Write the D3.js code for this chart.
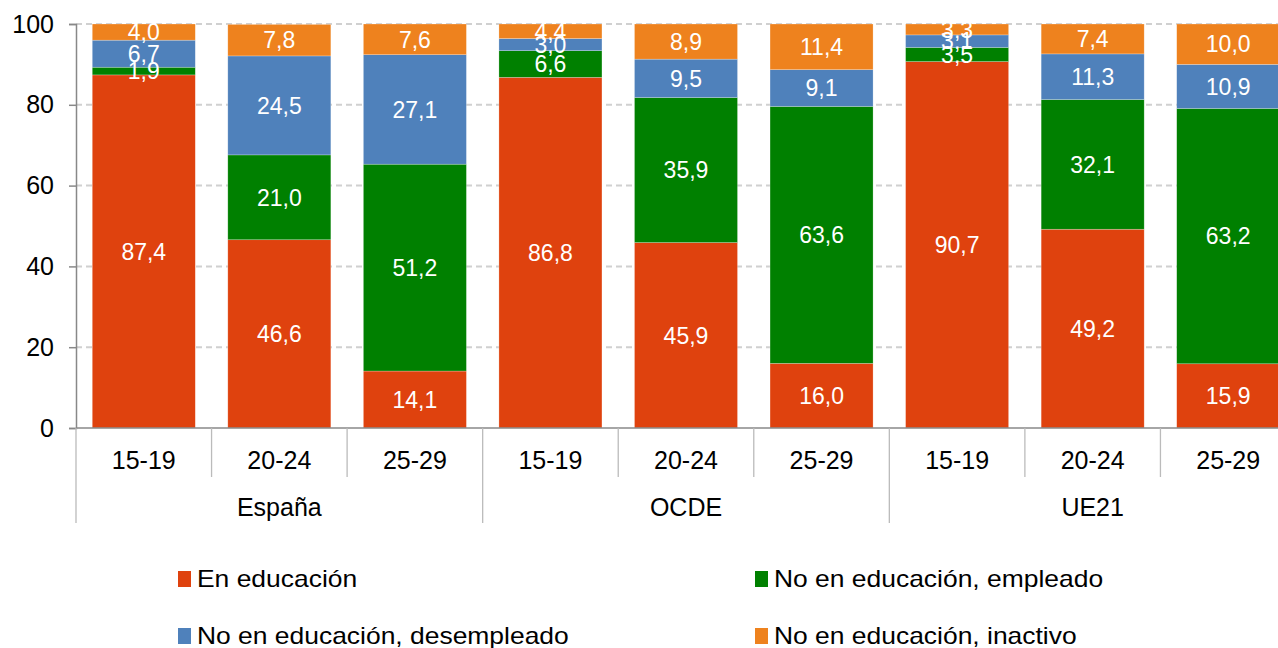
<!DOCTYPE html>
<html>
<head>
<meta charset="utf-8">
<script src="https://cdnjs.cloudflare.com/ajax/libs/d3/7.8.5/d3.min.js"></script>
<style>
body { margin: 0; background: #fff; }
svg { display: block; font-family: "Liberation Sans", Arial, sans-serif; }
</style>
</head>
<body>
<svg width="1278" height="648"></svg>
<script>
var svg = d3.select("svg");

// data
var groups = ["España", "OCDE", "UE21"];
var ages = ["15-19", "20-24", "25-29"];
var series = ["En educación", "No en educación, empleado", "No en educación, desempleado", "No en educación, inactivo"];
var colors = ["#DF420E", "#008000", "#4F81BB", "#EE821E"];

var enEducacion = [87.4, 46.6, 14.1, 86.8, 45.9, 16.0, 90.7, 49.2, 15.9];
var empleado    = [1.9, 21.0, 51.2, 6.6, 35.9, 63.6, 3.5, 32.1, 63.2];
var desempleado = [6.7, 24.5, 27.1, 3.0, 9.5, 9.1, 3.1, 11.3, 10.9];
var inactivo    = [4.0, 7.8, 7.6, 4.4, 8.9, 11.4, 3.3, 7.4, 10.0];
var yTicks = [0, 20, 40, 60, 80, 100];

var values = [enEducacion, empleado, desempleado, inactivo];

var cats = [];
groups.forEach(function(g) { ages.forEach(function(a) { cats.push(g + "|" + a); }); });

var x = d3.scaleBand().domain(cats).range([76, 1296]).paddingInner(0.24).paddingOuter(0.12);
var y = d3.scaleLinear().domain([0, 100]).range([428, 24]);
var fmt = function(v) { return d3.format(".1f")(v).replace(".", ","); };

var step = x.step();
var x0 = 76;

// gridlines
svg.append("g").selectAll("line")
  .data(yTicks.filter(function(t) { return t > 0; }))
  .enter().append("line")
    .attr("x1", x0).attr("x2", 1278)
    .attr("y1", function(d) { return y(d); })
    .attr("y2", function(d) { return y(d); })
    .style("stroke", "#d0d0d0")
    .style("stroke-width", 2)
    .style("stroke-dasharray", "6,4");

// stacked segments
var stackData = cats.map(function(c, i) {
  var acc = 0;
  return values.map(function(s, k) {
    var seg = { cat: c, k: k, v: s[i], y0: acc, y1: Math.min(100, acc + s[i]) };
    acc += s[i];
    return seg;
  });
});

var barG = svg.append("g");
stackData.forEach(function(segs) {
  barG.selectAll(null).data(segs).enter().append("rect")
    .attr("x", function(d) { return x(d.cat); })
    .attr("width", x.bandwidth())
    .attr("y", function(d) { return y(d.y1); })
    .attr("height", function(d) { return y(d.y0) - y(d.y1); })
    .style("fill", function(d) { return colors[d.k]; })
    .style("stroke", "#ffffff")
    .style("stroke-opacity", 0.4)
    .style("stroke-width", 0.6);

  barG.selectAll(null).data(segs).enter().append("text")
    .attr("x", function(d) { return x(d.cat) + x.bandwidth() / 2; })
    .attr("y", function(d) { return y((d.y0 + d.y1) / 2); })
    .attr("dy", "0.36em")
    .attr("text-anchor", "middle")
    .style("fill", "#fff")
    .style("font-size", "23px")
    .text(function(d) { return fmt(d.v); });
});

// y axis
var yAxis = svg.append("g")
  .attr("transform", "translate(" + x0 + ",0)")
  .call(d3.axisLeft(y).tickValues(yTicks).tickSize(7).tickPadding(15));
yAxis.selectAll("text").style("font-size", "25px").style("fill", "#000").attr("font-family", null);
yAxis.selectAll("line, path").style("stroke", "#888").style("stroke-width", 1.5);

// x axis baseline
svg.append("line")
  .attr("x1", x0).attr("x2", 1278)
  .attr("y1", y(0)).attr("y2", y(0))
  .style("stroke", "#888").style("stroke-width", 1.5);

// category separators and labels
var sepG = svg.append("g");
d3.range(cats.length + 1).forEach(function(i) {
  var big = i % 3 === 0;
  sepG.append("line")
    .attr("x1", x0 + i * step).attr("x2", x0 + i * step)
    .attr("y1", y(0)).attr("y2", big ? 523 : 477)
    .style("stroke", "#bbb").style("stroke-width", 1.3);
});

svg.append("g").selectAll("text")
  .data(cats).enter().append("text")
    .attr("x", function(d) { return x(d) + x.bandwidth() / 2; })
    .attr("y", 469)
    .attr("text-anchor", "middle")
    .style("font-size", "25px")
    .text(function(d) { return d.split("|")[1]; });

svg.append("g").selectAll("text")
  .data(groups).enter().append("text")
    .attr("x", function(d, i) { return x0 + (i * 3 + 1.5) * step; })
    .attr("y", 516)
    .attr("text-anchor", "middle")
    .style("font-size", "25px")
    .text(function(d) { return d; });

// legend
var legPos = [[178, 579], [755, 579], [178, 636], [755, 636]];
var leg = svg.append("g").selectAll("g")
  .data(series).enter().append("g")
    .attr("transform", function(d, i) { return "translate(" + legPos[i][0] + "," + legPos[i][1] + ")"; });
leg.append("rect")
  .attr("x", 0).attr("y", -8).attr("width", 13).attr("height", 16)
  .style("fill", function(d, i) { return colors[i]; });
leg.append("text")
  .attr("x", 19).attr("dy", "0.36em")
  .attr("transform", "scale(1.04,1)")
  .style("font-size", "23px")
  .attr("textLength", function(d) { return null; })
  .text(function(d) { return d; })
  .each(function() {
    var w = this.getComputedTextLength();
    d3.select(this).attr("transform", "scale(" + (1.15) + ",1)").attr("x", 19 / 1.15);
  });
</script>
</body>
</html>
